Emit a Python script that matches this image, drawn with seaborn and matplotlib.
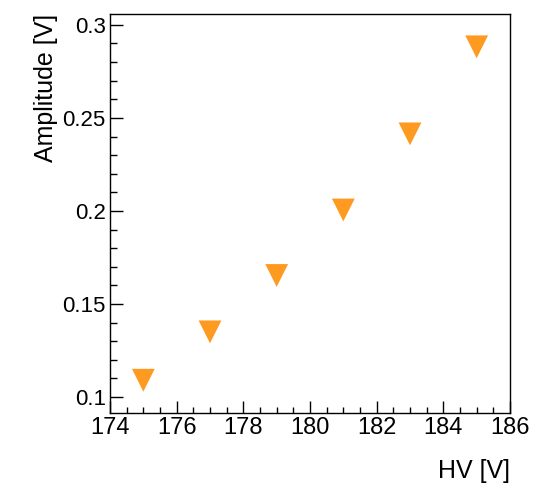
import matplotlib
matplotlib.use("Agg")
import matplotlib.pyplot as plt
import seaborn as sns
import pandas as pd
from matplotlib.ticker import MultipleLocator, FuncFormatter

hv = [175, 177, 179, 181, 183, 185]
amplitude = [0.109, 0.135, 0.1653, 0.2005, 0.2414, 0.2882]

sns.set_style("white")
plt.rcParams['font.family'] = ['Liberation Sans', 'DejaVu Sans']
plt.rcParams['text.color'] = 'black'
plt.rcParams['axes.labelcolor'] = 'black'
plt.rcParams['xtick.color'] = 'black'
plt.rcParams['ytick.color'] = 'black'

df = pd.DataFrame({"HV": hv, "Amplitude": amplitude})

fig = plt.figure(figsize=(5.43, 4.87), dpi=100)
ax = fig.add_axes([110/543, 1-413/487, 400/543, (413-13.7)/487])

sns.scatterplot(data=df, x="HV", y="Amplitude", marker="v", s=270,
                color="#ff9a20", edgecolor="none", linewidth=0, ax=ax, legend=False)

ax.set_xlim(174, 186)
ax.set_ylim(0.0914, 0.306)
ax.xaxis.set_major_locator(MultipleLocator(2))
ax.xaxis.set_minor_locator(MultipleLocator(0.5))
ax.yaxis.set_major_locator(MultipleLocator(0.05))
ax.yaxis.set_minor_locator(MultipleLocator(0.01))
ax.yaxis.set_major_formatter(FuncFormatter(lambda v, p: f"{v:g}"))
ax.xaxis.set_major_formatter(FuncFormatter(lambda v, p: f"{v:g}"))

for s in ax.spines.values():
    s.set_visible(True)
    s.set_color("black")
    s.set_linewidth(1.0)

ax.tick_params(axis="both", which="both", direction="in", color="black",
               labelcolor="black", width=1.0, top=False, right=False,
               bottom=True, left=True)
ax.tick_params(axis="x", which="major", length=8.5, pad=3, labelsize=17)
ax.tick_params(axis="x", which="minor", length=4.5)
ax.tick_params(axis="y", which="major", length=9.5, pad=3, labelsize=16)
ax.tick_params(axis="y", which="minor", length=5)

ax.set_xlabel("HV [V]", fontsize=18, loc="right", color="black")
ax.set_ylabel("Amplitude [V]", fontsize=18, loc="top", color="black")
ax.xaxis.set_label_coords(1.0, -0.115)
ax.yaxis.set_label_coords(-0.13, 1.0)

fig.savefig("out.png", dpi=100)
